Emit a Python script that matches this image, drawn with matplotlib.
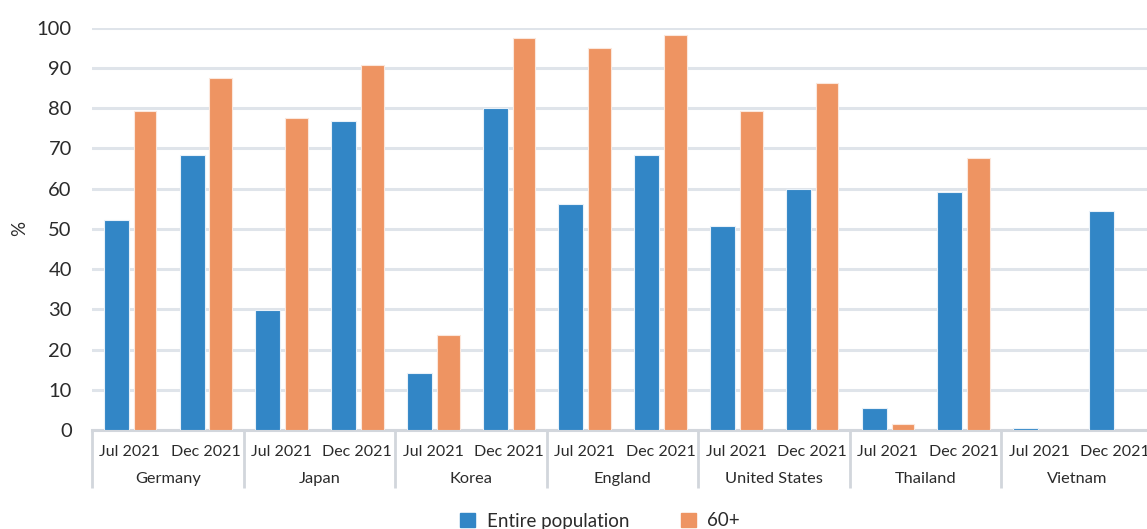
import numpy as np
import matplotlib
matplotlib.use("Agg")
import matplotlib.pyplot as plt
from matplotlib.patches import Patch

plt.rcParams['font.family'] = ['Lato', 'DejaVu Sans']

countries = ["Germany", "Japan", "Korea", "England", "United States", "Thailand", "Vietnam"]
periods = ["Jul 2021", "Dec 2021"]
entire_population = [52.3, 68.4, 29.9, 76.9, 14.2, 80.0, 56.1, 68.3, 50.7, 60.0, 5.4, 59.1, 0.6, 54.5]
over_60 = [79.3, 87.6, 77.6, 90.7, 23.5, 97.4, 95.0, 98.3, 79.3, 86.2, 1.5, 67.6, np.nan, np.nan]
yticks = [0, 10, 20, 30, 40, 50, 60, 70, 80, 90, 100]

BLUE = "#3286C6"
ORANGE = "#EE9462"
GRID = "#DFE4EA"
AXIS = "#D2D6DC"
TEXT = "#2B2B2B"

W, H = 1147, 529
fig = plt.figure(figsize=(W / 100, H / 100), dpi=100)
left_px, right_px, top_px, bottom_px = 92, 1153, 27.7, 430
ax = fig.add_axes([left_px / W, (H - bottom_px) / H,
                   (right_px - left_px) / W, (bottom_px - top_px) / H])

n = len(entire_population)
x = np.arange(n)
ax.bar(x - 0.18, entire_population, width=0.33, color=BLUE,
       edgecolor="#E8F1F9", linewidth=0.8, zorder=3)
ax.bar(x + 0.20, over_60, width=0.30, color=ORANGE,
       edgecolor="#FBE7DC", linewidth=0.8, zorder=3)

ax.set_xlim(-0.5, n - 0.5)
ax.set_ylim(0, 100)
ax.set_yticks(yticks)
ax.tick_params(axis='y', length=0, pad=14.5, labelsize=14.5, labelcolor=TEXT)
ax.set_xticks([])
ax.grid(axis='y', color=GRID, linewidth=2.2, zorder=0)
for s in ["top", "right", "left"]:
    ax.spines[s].set_visible(False)
ax.spines["bottom"].set_color(AXIS)
ax.spines["bottom"].set_linewidth(2.2)
ax.set_ylabel("%", fontsize=13.5, color=TEXT, va="center")
ax.yaxis.set_label_coords(-(left_px - 20) / (right_px - left_px), 0.5)

# two-level category axis: periods, then countries, with group separators
trans = ax.get_xaxis_transform()
axis_h = bottom_px - top_px
y_period = -(452 - bottom_px) / axis_h
y_country = -(479 - bottom_px) / axis_h
y_sep = -(488 - bottom_px) / axis_h
for i in range(n):
    ax.text(x[i], y_period, periods[i % 2], transform=trans, ha="center",
            va="center", fontsize=11.5, color=TEXT, clip_on=False)
for g, name in enumerate(countries):
    ax.text(2 * g + 0.5, y_country, name, transform=trans, ha="center",
            va="center", fontsize=11.8, color=TEXT, clip_on=False)
for g in range(len(countries) + 1):
    ax.plot([2 * g - 0.5, 2 * g - 0.5], [0, y_sep], transform=trans,
            color=AXIS, linewidth=2, clip_on=False, solid_capstyle="butt")

handles = [Patch(color=BLUE, label="Entire population"),
           Patch(color=ORANGE, label="60+")]
fig.legend(handles=handles, loc="center", bbox_to_anchor=(600 / W, (H - 521) / H),
           ncol=2, frameon=False, fontsize=13.5, handlelength=0.8, handleheight=0.8,
           columnspacing=2.75, handletextpad=0.6, labelcolor=TEXT)

fig.savefig("out.png", dpi=100)
